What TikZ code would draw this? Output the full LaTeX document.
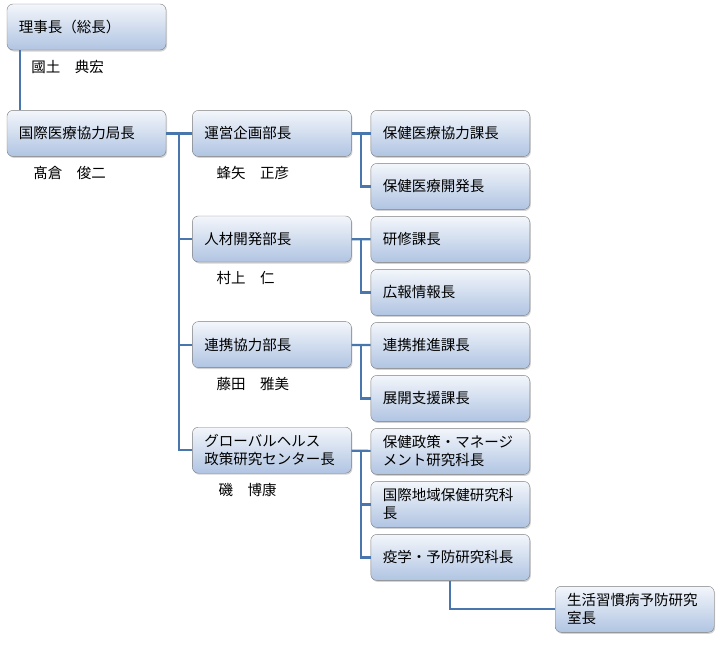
\documentclass[tikz,border=0pt]{standalone}
\usepackage{fontspec}
\setmainfont{Noto Sans CJK JP}
\usetikzlibrary{positioning,calc,shadows}
\definecolor{boxtop}{RGB}{243,246,251}
\definecolor{boxbot}{RGB}{176,196,226}
\definecolor{boxline}{RGB}{125,125,125}
\definecolor{orgline}{RGB}{74,118,174}

\begin{document}
\begin{tikzpicture}[node distance=6.6pt, every node/.style={font=\fontsize{14.5}{18}\selectfont},
  box/.style={draw=boxline, rounded corners=6pt, top color=boxtop, bottom color=boxbot, text width=135pt, inner xsep=12pt, inner ysep=2pt, minimum height=46pt, align=left, drop shadow={shadow xshift=1pt, shadow yshift=-1.5pt, opacity=0.35}},
  person/.style={anchor=west},
  link/.style={draw=orgline, line width=2.2pt}]
\useasboundingbox (0,0) rectangle (721pt,-645pt);
% left column
\node[box] (riji) at (86.5pt,-27pt) {理事長（総長）};
\node[box, below=60pt of riji] (kyoku) {国際医療協力局長};
% middle column
\node[box, right=26pt of kyoku] (unei) {運営企画部長};
\node[box, below=59.2pt of unei] (jinzai) {人材開発部長};
\node[box, below=59.2pt of jinzai] (renkei) {連携協力部長};
\node[box, below=59.2pt of renkei] (glob) {グローバルヘルス\\政策研究センター長};
% right column
\node[box, right=19pt of unei] (kyoryoku) {保健医療協力課長};
\node[box, below=of kyoryoku] (kaihatsu) {保健医療開発長};
\node[box, below=of kaihatsu] (kenshu) {研修課長};
\node[box, below=of kenshu] (koho) {広報情報長};
\node[box, below=of koho] (suishin) {連携推進課長};
\node[box, below=of suishin] (tenkai) {展開支援課長};
\node[box, below=of tenkai] (seisaku) {保健政策・マネージ\\メント研究科長};
\node[box, below=of seisaku] (chiiki) {国際地域保健研究科\\長};
\node[box, below=of chiiki] (ekigaku) {疫学・予防研究科長};
\node[box, below right=5.5pt and 25pt of ekigaku] (seikatsu) {生活習慣病予防研究\\室長};
% names
\node[person] (kokudo) at ($(riji.south west)+(21pt,-17pt)$) {國土　典宏};
\node[person] (takakura) at ($(kyoku.south west)+(23pt,-16pt)$) {髙倉　俊二};
\node[person] (hachiya) at ($(unei.south west)+(21pt,-16pt)$) {蜂矢　正彦};
\node[person] (murakami) at ($(jinzai.south west)+(21pt,-16pt)$) {村上　仁};
\node[person] (fujita) at ($(renkei.south west)+(21pt,-16pt)$) {藤田　雅美};
\node[person] (iso) at ($(glob.south west)+(23pt,-17pt)$) {磯　博康};
% connectors
\draw[link] ($(riji.south west)+(13pt,0)$) -- ($(kyoku.north west)+(13pt,0)$);
\draw[link] (kyoku) -- (unei);
\coordinate (trunk) at ($(kyoku.east)!0.5!(unei.west)$);
\foreach \n in {jinzai,renkei,glob} \draw[link] (trunk) |- (\n.west);
\foreach \a/\b/\c in {unei/kyoryoku/kaihatsu, jinzai/kenshu/koho, renkei/suishin/tenkai} {
  \coordinate (fork) at ($(\a.east)!0.5!(\b.west)$);
  \draw[link] (\a) -- (\b);
  \draw[link] (fork) |- (\c.west);
}
\draw[link] (glob) -- (seisaku);
\coordinate (gfork) at ($(glob.east)!0.5!(seisaku.west)$);
\foreach \n in {chiiki,ekigaku} \draw[link] (gfork) |- (\n.west);
\draw[link] (ekigaku.south) |- (seikatsu.west);
\end{tikzpicture}
\end{document}
